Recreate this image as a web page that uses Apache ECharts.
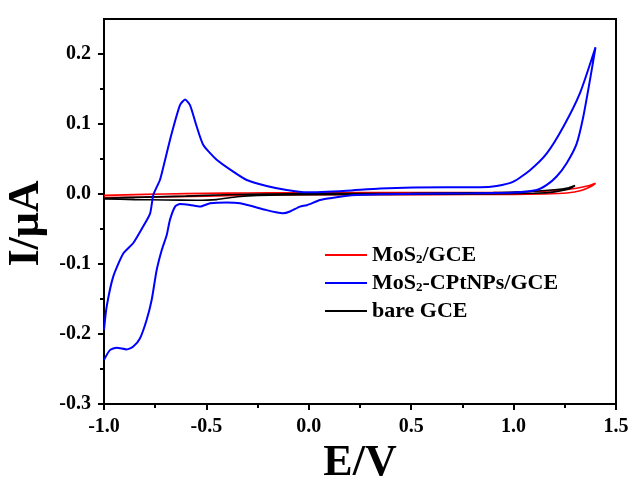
<!DOCTYPE html>
<html>
<head>
<meta charset="utf-8">
<script src="https://cdn.jsdelivr.net/npm/echarts@6/dist/echarts.min.js"></script>
<style>
html,body{margin:0;padding:0;background:#fff;}
#main{width:629px;height:477px;}
</style>
</head>
<body>
<div id="main"></div>
<script>
var serif = 'Liberation Serif';

// MoS2-CPtNPs/GCE, forward sweep then return sweep
var blueE = [-1.000,-0.987,-0.955,-0.906,-0.857,-0.816,-0.775,-0.759,-0.727,-0.710,-0.669,-0.629,-0.604,-0.580,-0.547,-0.515,-0.450,-0.369,-0.303,-0.206,-0.108,-0.010,0.185,0.348,0.673,0.836,0.917,0.999,1.080,1.162,1.243,1.324,1.400,
	1.373,1.340,1.308,1.259,1.210,1.162,1.113,1.000,0.800,0.550,0.348,0.200,0.104,0.055,-0.010,-0.043,-0.092,-0.125,-0.160,-0.206,-0.336,-0.401,-0.482,-0.531,-0.580,-0.629,-0.653,-0.678,-0.694,-0.718,-0.743,-0.767,-0.792,-0.824,-0.857,-0.889,-0.938,-0.971,-1.000];
var blueI = [-0.194,-0.161,-0.118,-0.085,-0.070,-0.050,-0.028,-0.001,0.020,0.039,0.087,0.127,0.135,0.127,0.096,0.070,0.049,0.032,0.020,0.0114,0.0057,0.0024,0.0047,0.008,0.0096,0.0096,0.0114,0.0176,0.034,0.058,0.096,0.144,0.2096,
	0.163,0.110,0.072,0.044,0.025,0.013,0.0057,0.002,0.001,0.0005,-0.0005,-0.002,-0.006,-0.0086,-0.016,-0.018,-0.025,-0.0276,-0.026,-0.023,-0.0133,-0.012,-0.0133,-0.018,-0.0157,-0.0143,-0.018,-0.037,-0.059,-0.080,-0.109,-0.151,-0.180,-0.206,-0.218,-0.222,-0.2196,-0.223,-0.237];

// MoS2/GCE
var redE = [-1.0,-0.8,-0.6,-0.4,-0.2,0.0,0.4,0.8,1.0,1.15,1.25,1.32,1.37,1.40,
	1.38,1.33,1.26,1.15,1.0,0.6,0.2,-0.2,-0.5,-0.8,-1.0];
var redI = [-0.002,-0.0005,0.0005,0.0012,0.0016,0.0018,0.002,0.002,0.0025,0.004,0.006,0.009,0.012,0.0153,
	0.011,0.005,0.0015,0.0,-0.0005,-0.001,-0.001,-0.0015,-0.003,-0.0045,-0.005];

// bare GCE
var blackE = [-1.0,-0.8,-0.6,-0.4,-0.2,0.0,0.5,0.9,1.1,1.2,1.27,1.30,
	1.27,1.2,1.1,0.8,0.4,0.0,-0.25,-0.35,-0.45,-0.55,-0.7,-0.85,-1.0];
var blackI = [-0.006,-0.0045,-0.003,-0.001,0.0,0.0005,0.001,0.002,0.004,0.006,0.009,0.012,
	0.007,0.003,0.001,0.0,-0.0005,-0.001,-0.002,-0.004,-0.008,-0.009,-0.0085,-0.008,-0.007];

var xTicks = [-1.0,-0.5,0.0,0.5,1.0,1.5];
var yTicks = [-0.3,-0.2,-0.1,0.0,0.1,0.2];
var yMinorTicks = [-0.25,-0.15,-0.05,0.05,0.15];
var legendNames = ['MoS₂/GCE','MoS₂-CPtNPs/GCE','bare GCE'];

function pairs(xs, ys){
	var out = [];
	for (var i = 0; i < xs.length; i++) out.push([xs[i], ys[i]]);
	return out;
}

var option = {
	animation: false,
	textStyle: { fontFamily: serif },
	grid: {
		left: 104, right: 13, top: 19, bottom: 73,
		outerBoundsMode: 'none',
		show: true, borderColor: '#000', borderWidth: 2
	},
	legend: {
		orient: 'vertical',
		left: 325, top: 244,
		padding: 0,
		icon: 'rect',
		itemWidth: 42, itemHeight: 2,
		itemGap: 6,
		data: legendNames,
		formatter: function(name){ return name.replace('₂', '{sub|2}'); },
		textStyle: {
			fontFamily: serif, fontWeight: 'bold', fontSize: 22, color: '#000', lineHeight: 22,
			rich: {
				sub: { fontFamily: serif, fontWeight: 'bold', fontSize: 13, color: '#000', verticalAlign: 'bottom', lineHeight: 22, padding: [6, 0, 0, 0] }
			}
		}
	},
	xAxis: {
		type: 'value', min: -1, max: 1.5, interval: 0.5,
		name: 'E/V', nameLocation: 'middle', nameGap: 32,
		nameTextStyle: { fontFamily: serif, fontWeight: 'bold', fontSize: 44, color: '#000' },
		axisLine: { onZero: false, lineStyle: { color: '#000', width: 2 } },
		axisTick: { length: 6, lineStyle: { color: '#000', width: 2 } },
		minorTick: { show: true, splitNumber: 2, length: 4, lineStyle: { color: '#000', width: 2 } },
		splitLine: { show: false },
		axisLabel: { fontFamily: serif, fontWeight: 'bold', fontSize: 20, color: '#000', margin: 13,
			customValues: xTicks,
			formatter: function(v){ return v.toFixed(1); } }
	},
	yAxis: [{
		type: 'value', min: -0.3, max: 0.25, position: 'left',
		name: 'I/μA', nameLocation: 'middle', nameGap: 54, nameRotate: 90,
		nameTextStyle: { fontFamily: serif, fontWeight: 'bold', fontSize: 44, color: '#000', padding: [0, 24, 0, 0] },
		axisLine: { onZero: false, lineStyle: { color: '#000', width: 2 } },
		axisTick: { length: 6, customValues: yTicks, lineStyle: { color: '#000', width: 2 } },
		splitLine: { show: false },
		axisLabel: { fontFamily: serif, fontWeight: 'bold', fontSize: 20, color: '#000', margin: 13,
			customValues: yTicks,
			formatter: function(v){ return v.toFixed(1); } }
	}, {
		type: 'value', min: -0.3, max: 0.25, position: 'left',
		axisLine: { show: false, onZero: false },
		axisTick: { length: 4, customValues: yMinorTicks, lineStyle: { color: '#000', width: 2 } },
		axisLabel: { show: false },
		splitLine: { show: false }
	}],
	series: [{
		name: legendNames[0], type: 'line', data: pairs(redE, redI),
		showSymbol: false, symbol: 'none', smooth: 0.2,
		lineStyle: { color: '#ff0000', width: 1.6 }, itemStyle: { color: '#ff0000' }
	}, {
		name: legendNames[2], type: 'line', data: pairs(blackE, blackI),
		showSymbol: false, symbol: 'none', smooth: 0.2,
		lineStyle: { color: '#000000', width: 1.6 }, itemStyle: { color: '#000000' }
	}, {
		name: legendNames[1], type: 'line', data: pairs(blueE, blueI),
		showSymbol: false, symbol: 'none', smooth: 0.2,
		lineStyle: { color: '#0000ff', width: 2 }, itemStyle: { color: '#0000ff' }
	}]
};

var myChart = echarts.init(document.getElementById('main'));
myChart.setOption(option);
</script>
</body>
</html>
